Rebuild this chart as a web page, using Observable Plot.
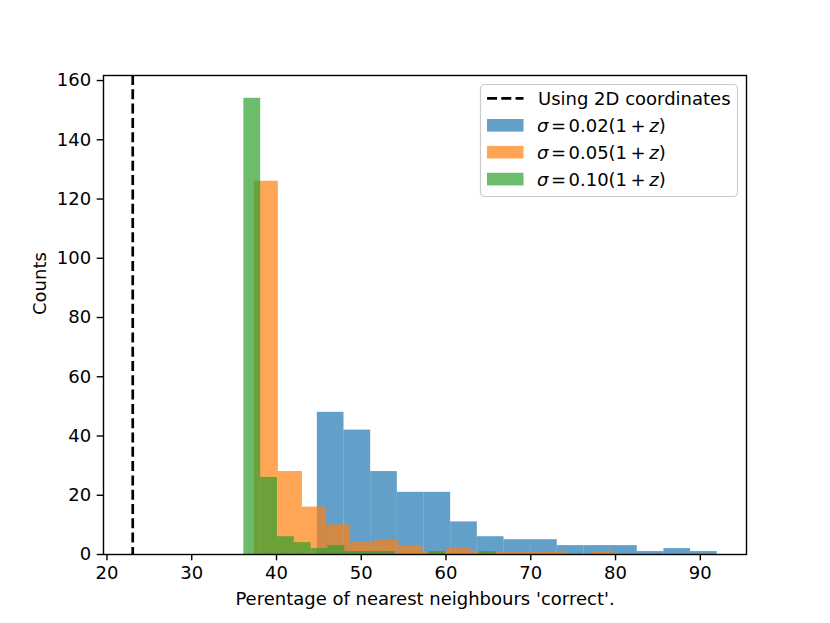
<!DOCTYPE html>
<html>
<head>
<meta charset="utf-8">
<script src="https://cdn.jsdelivr.net/npm/d3@7"></script>
<script src="https://cdn.jsdelivr.net/npm/@observablehq/plot@0.6"></script>
<style>
  body { margin: 0; background: white; }
  #chart svg { display: block; }
</style>
</head>
<body>
<div id="chart"></div>
<script>
// ---- data ----
const xTicks = [20, 30, 40, 50, 60, 70, 80, 90];
const yTicks = [0, 20, 40, 60, 80, 100, 120, 140, 160];

const blueCounts   = [48, 42, 28, 21, 21, 11, 6, 5, 5, 3, 3, 3, 1, 2, 1];
const blueRange    = [44.82, 92.0];
const orangeCounts = [126, 28, 16, 10, 4, 5, 3, 1, 2, 1, 1, 1, 1, 0, 1];
const orangeRange  = [37.38, 80.0];
const greenCounts  = [154, 26, 6, 4, 2, 3, 1, 1, 1, 0, 0, 1, 0, 0, 1];
const greenRange   = [36.15, 65.9];

const coordLine = [23.04];
const sigmaValues = ["0.02", "0.05", "0.10"];
const seriesColors = ["#1f77b4", "#ff7f0e", "#2ca02c"];
const lineLabel = "Using 2D coordinates";
const xLabel = "Perentage of nearest neighbours 'correct'.";
const yLabel = "Counts";

// ---- build bin tables ----
function bins(counts, range) {
  const [lo, hi] = range;
  const w = (hi - lo) / counts.length;
  return counts.map((c, i) => ({x1: lo + i * w, x2: lo + (i + 1) * w, count: c})).filter(d => d.count > 0);
}
const blueBins = bins(blueCounts, blueRange);
const orangeBins = bins(orangeCounts, orangeRange);
const greenBins = bins(greenCounts, greenRange);

const chart = Plot.plot({
  width: 830,
  height: 623,
  marginLeft: 103,
  marginRight: 84,
  marginTop: 75,
  marginBottom: 69,
  style: {fontFamily: "DejaVu Sans", fontSize: "18px", color: "black", background: "white"},
  x: {domain: [19.59, 95.45]},
  y: {domain: [0, 161.7]},
  marks: [
    Plot.rectY(blueBins, {x1: "x1", x2: "x2", y1: 0, y2: "count", fill: seriesColors[0], fillOpacity: 0.7}),
    Plot.rectY(orangeBins, {x1: "x1", x2: "x2", y1: 0, y2: "count", fill: seriesColors[1], fillOpacity: 0.7}),
    Plot.rectY(greenBins, {x1: "x1", x2: "x2", y1: 0, y2: "count", fill: seriesColors[2], fillOpacity: 0.7}),
    Plot.ruleX(coordLine, {stroke: "black", strokeWidth: 2.7, strokeDasharray: "10,4.3"}),
    Plot.frame({stroke: "black", strokeWidth: 1.4}),
    Plot.axisX({ticks: xTicks, tickSize: 6.3, tickPadding: 5, strokeWidth: 1.4, label: null, tickFormat: d => String(d)}),
    Plot.axisY({ticks: yTicks, tickSize: 6.3, tickPadding: 6, strokeWidth: 1.4, label: null, tickFormat: d => String(d)}),
    Plot.text([yLabel], {frameAnchor: "left", dx: -63, rotate: -90, text: d => d, fill: "black"}),
    Plot.text([xLabel], {frameAnchor: "bottom", dy: 45, lineAnchor: "middle", text: d => d, fill: "black"})
  ]
});
document.getElementById("chart").appendChild(chart);

// ---- legend (upper right, inside the axes) ----
const svg = d3.select(chart);
const lg = svg.append("g")
  .attr("font-family", "DejaVu Sans").attr("font-size", 18).attr("fill", "black")
  .attr("text-anchor", "start");
lg.append("rect")
  .attr("x", 480.5).attr("y", 84.5).attr("width", 257).attr("height", 112).attr("rx", 4)
  .attr("fill", "white").attr("fill-opacity", 0.8).attr("stroke", "#cccccc").attr("stroke-width", 1.2);
const rowY = i => 98.4 + i * 26.9;
lg.append("line")
  .attr("x1", 487).attr("x2", 523.5).attr("y1", rowY(0)).attr("y2", rowY(0))
  .attr("stroke", "black").attr("stroke-width", 2.7).attr("stroke-dasharray", "10,4.3");
lg.append("text").attr("x", 538).attr("y", rowY(0) + 6.6).attr("text-anchor", "start").text(lineLabel);
sigmaValues.forEach((v, k) => {
  const cy = rowY(k + 1);
  lg.append("rect").attr("x", 487).attr("y", cy - 6.3).attr("width", 36.5).attr("height", 12.6)
    .attr("fill", seriesColors[k]).attr("fill-opacity", 0.7);
  const t = lg.append("text").attr("x", 537).attr("y", cy + 6.6).attr("text-anchor", "start");
  t.append("tspan").attr("font-style", "italic").text("σ");
  t.append("tspan").attr("dx", 2.5).text("=");
  t.append("tspan").attr("dx", 2.5).text(v + "(1");
  t.append("tspan").attr("dx", 3.5).text("+");
  t.append("tspan").attr("dx", 3.5).attr("font-style", "italic").text("z");
  t.append("tspan").text(")");
});
</script>
</body>
</html>
